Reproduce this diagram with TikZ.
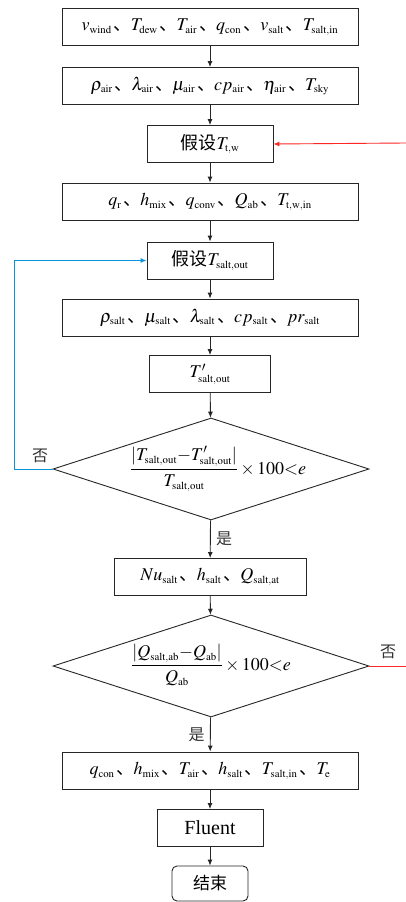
\documentclass[tikz,border=0pt]{standalone}
\usepackage{mathptmx}
\usepackage[no-math]{fontspec}
\setmainfont{Liberation Serif}
\newfontfamily\cjk{Noto Sans CJK SC}
\usetikzlibrary{shapes.geometric,arrows.meta}
\newcommand{\dunhao}{\kern2pt\mbox{\cjk 、}\kern-1pt}
\newcommand{\sub}[1]{_{\scriptscriptstyle\mathrm{#1}}}

\begin{document}
\begin{tikzpicture}[x=1pt, y=-1pt,
  every node/.style={font=\fontsize{18}{21}\selectfont},
  stepbox/.style={draw=black!85, line width=0.9pt, minimum height=37pt, inner sep=2pt},
  decide/.style={draw=black!85, line width=0.9pt, diamond, inner sep=0pt, minimum width=316pt, minimum height=102pt},
  flow/.style={draw=black!85, line width=0.9pt, -{Latex[length=6pt,width=5pt]}},
  cjklabel/.style={font=\cjk\fontsize{16}{19}\selectfont, text=black!80}]
\useasboundingbox[fill=white] (0,0) rectangle (406,902);

\node[stepbox, minimum width=296pt] (inp) at (210,27) {$v\sub{wind}$\dunhao$T\sub{dew}$\dunhao$T\sub{air}$\dunhao$q\sub{con}$\dunhao$v\sub{salt}$\dunhao$T\sub{salt,in}$};
\node[stepbox, minimum width=296pt] (airp) at (210,86) {$\rho\sub{air}$\dunhao$\lambda\sub{air}$\dunhao$\mu\sub{air}$\dunhao$cp\sub{air}$\dunhao$\eta\sub{air}$\dunhao$T\sub{sky}$};
\node[stepbox, minimum width=126pt] (asmT) at (210,144) {{\cjk 假设}$T\sub{t,w}$};
\node[stepbox, minimum width=296pt] (heat) at (210,201.5) {$q\sub{r}$\dunhao$h\sub{mix}$\dunhao$q\sub{conv}$\dunhao$Q\sub{ab}$\dunhao$T\sub{t,w,in}$};
\node[stepbox, minimum width=126pt] (asmS) at (210,260.5) {{\cjk 假设}$T\sub{salt,out}$};
\node[stepbox, minimum width=296pt] (saltp) at (210,317.5) {$\rho\sub{salt}$\dunhao$\mu\sub{salt}$\dunhao$\lambda\sub{salt}$\dunhao$cp\sub{salt}$\dunhao$pr\sub{salt}$};
\node[stepbox, minimum width=121pt] (tout) at (210,374) {$T'\sub{salt,out}$};
\node[decide] (chkT) at (211,469) {\makebox[0pt]{\hspace*{14pt}\raisebox{-10pt}{\smash{$\displaystyle\frac{|T\sub{salt,out}{-}T'\sub{salt,out}|}{T\sub{salt,out}}\times100{<}e$}}}};
\node[stepbox, minimum width=192pt] (nus) at (210,577) {$Nu\sub{salt}$\dunhao$h\sub{salt}$\dunhao$Q\sub{salt,at}$};
\node[decide] (chkQ) at (211,666) {\makebox[0pt]{\raisebox{-8pt}{\smash{$\displaystyle\frac{|Q\sub{salt,ab}{-}Q\sub{ab}|}{Q\sub{ab}}\times100{<}e$}}}};
\node[stepbox, minimum width=296pt] (bnd) at (210,770.5) {$q\sub{con}$\dunhao$h\sub{mix}$\dunhao$T\sub{air}$\dunhao$h\sub{salt}$\dunhao$T\sub{salt,in}$\dunhao$T\sub{e}$};
\node[stepbox, minimum width=106pt, font=\fontsize{20}{23}\selectfont] (flu) at (210,828) {Fluent};
\node[stepbox, minimum width=76pt, minimum height=35pt, rounded corners=5pt, font=\cjk\fontsize{17}{20}\selectfont] (fin) at (210,883.5) {结束};

% main flow
\draw[flow] (inp) -- (airp);
\draw[flow] (airp) -- (asmT);
\draw[flow] (asmT) -- (heat);
\draw[flow] (heat) -- (asmS);
\draw[flow] (asmS) -- (saltp);
\draw[flow] (saltp) -- (tout);
\draw[flow] (tout) -- (chkT);
\draw[flow] (chkT) -- node[cjklabel, right, pos=0.5, xshift=2pt] (yes1) {是} (nus);
\draw[flow] (nus) -- (chkQ);
\draw[flow] (chkQ) -- node[cjklabel, left, pos=0.5, xshift=-2pt] (yes2) {是} (bnd);
\draw[flow] (bnd) -- (flu);
\draw[flow] (flu) -- (fin);

% loops
\coordinate (loopL) at (14,469);
\draw[flow, draw=cyan!80!blue] (chkT.west) -- (loopL) |- (asmS.west);
\node[cjklabel] (no1) at (40,456) {否};
\coordinate (loopR) at (406,666);
\coordinate (backR) at (406,143);
\draw[line width=0.9pt, draw=red!85] (chkQ.east) -- (loopR);
\draw[flow, draw=red!85] (backR) -- (asmT.east);
\node[cjklabel] (no2) at (388,652) {否};
\end{tikzpicture}
\end{document}
